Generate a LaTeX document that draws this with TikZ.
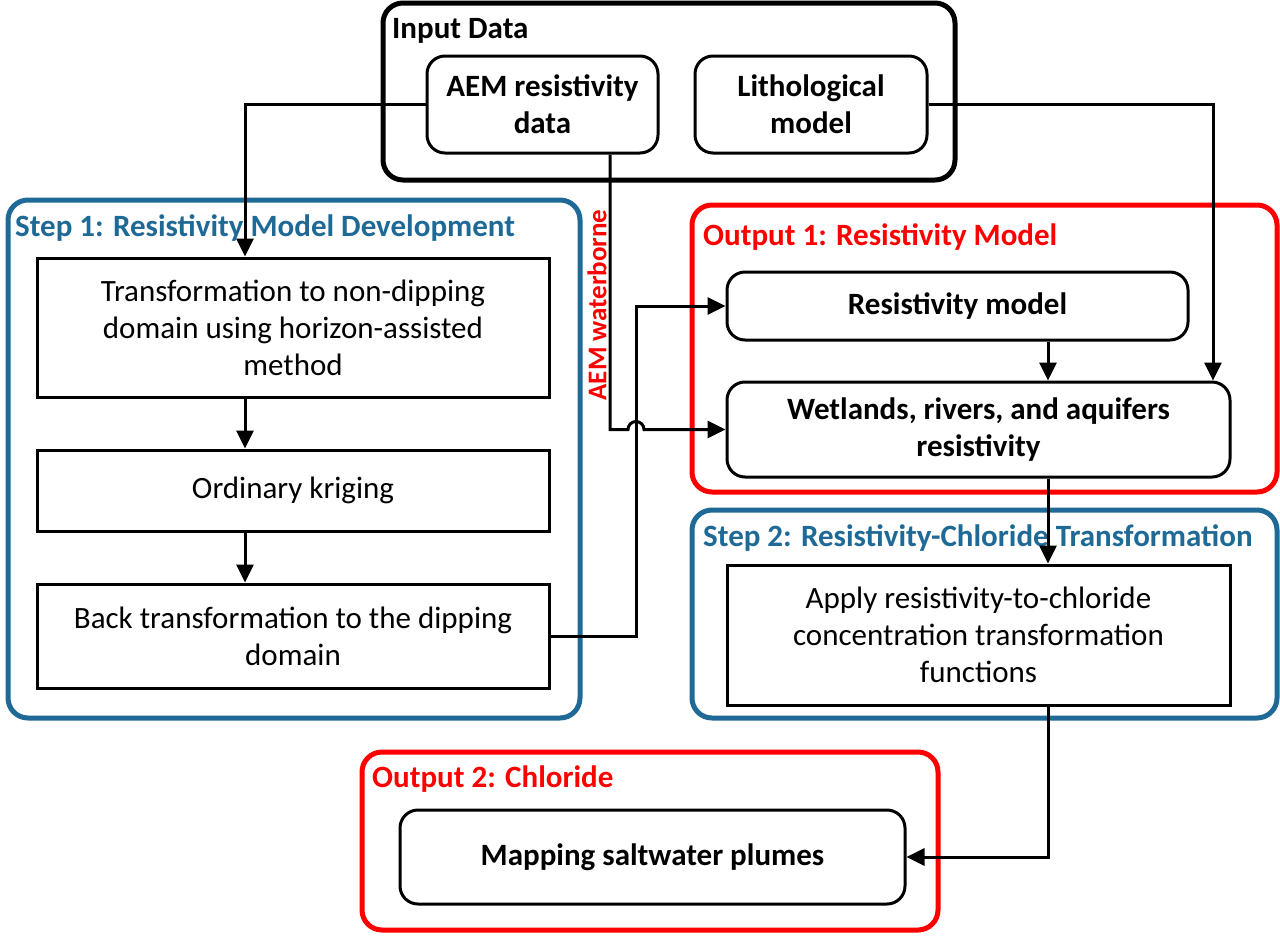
\documentclass[tikz,border=0pt]{standalone}
\usepackage{fontspec}
\setmainfont{Carlito}
\usetikzlibrary{arrows.meta}
\definecolor{stepblue}{RGB}{31,105,150}

\begin{document}
\begin{tikzpicture}[x=1pt, y=-1pt,
    every node/.style={font=\fontsize{31}{37}\selectfont},
    frame/.style={draw, line width=5pt, rounded corners=20pt, inner sep=0pt},
    inbox/.style={draw, line width=3pt, rounded corners=18pt, align=center, font=\fontsize{31}{37}\selectfont\bfseries},
    stepbox/.style={draw, line width=3pt, align=center},
    title/.style={anchor=west, inner sep=0pt, font=\fontsize{31}{37}\selectfont\bfseries},
    arr/.style={line width=3pt, -{Triangle[length=18pt,width=17pt]}}]
    \useasboundingbox (0,0) rectangle (1280,935);

    % group frames
    \node[frame, minimum width=572pt, minimum height=177pt] (input) at (669,91.5) {};
    \node[frame, draw=stepblue, minimum width=572pt, minimum height=518pt] (step1) at (294,459) {};
    \node[frame, draw=red, minimum width=585pt, minimum height=287pt] (out1) at (984.5,348.5) {};
    \node[frame, draw=stepblue, minimum width=585pt, minimum height=208pt] (step2) at (984.5,614) {};
    \node[frame, draw=red, minimum width=576pt, minimum height=178pt] (out2) at (650,841) {};

    % frame titles
    \node[title] (inputlbl) at (392,31) {Input Data};
    \node[title, text=stepblue] (step1lbl) at (15,228) {Step 1: Resistivity Model Development};
    \node[title, text=red] (out1lbl) at (703,237) {Output 1: Resistivity Model};
    \node[title, text=stepblue] (step2lbl) at (703,538) {Step 2: Resistivity-Chloride Transformation};
    \node[title, text=red] (out2lbl) at (372,779) {Output 2: Chloride};

    % boxes
    \node[inbox, minimum width=231pt, minimum height=97pt] (aem) at (542.5,104.5) {AEM resistivity\\data};
    \node[inbox, minimum width=232pt, minimum height=97pt] (lith) at (811,104.5) {Lithological\\model};
    \node[stepbox, minimum width=512pt, minimum height=139pt] (trans) at (293,327.5) {Transformation to non-dipping\\domain using horizon-assisted\\method};
    \node[stepbox, minimum width=512pt, minimum height=81pt] (krig) at (293,490.5) {Ordinary kriging};
    \node[stepbox, minimum width=512pt, minimum height=104pt] (back) at (293,636) {Back transformation to the dipping\\domain};
    \node[inbox, minimum width=461pt, minimum height=68pt] (res) at (957.5,306) {Resistivity model};
    \node[inbox, minimum width=503pt, minimum height=95pt] (wet) at (978.5,429.5) {Wetlands, rivers, and aquifers\\resistivity};
    \node[stepbox, minimum width=503pt, minimum height=140pt] (apply) at (978.5,635) {Apply resistivity-to-chloride\\concentration transformation\\functions};
    \node[inbox, minimum width=505pt, minimum height=94pt] (map) at (652.5,857) {Mapping saltwater plumes};

    \node[rotate=90, text=red, inner sep=0pt, font=\fontsize{27}{32}\selectfont\bfseries] (aemwb) at (597,305) {AEM waterborne};

    % x positions of the vertical runs
    \coordinate (c1) at (245,0);
    \coordinate (c2) at (610,0);
    \coordinate (c3) at (636,0);
    \coordinate (c4) at (1213,0);
    \coordinate (c5) at (1048,0);

    % connectors
    \draw[arr] (aem.west) -| (c1 |- trans.north);
    \draw[arr] (c1 |- trans.south) -- (c1 |- krig.north);
    \draw[arr] (c1 |- krig.south) -- (c1 |- back.north);
    \draw[arr] (back.east) -| (c3 |- res.west) -- (res.west);
    \draw[arr] (c2 |- aem.south) |- ([xshift=-8pt]c3 |- wet.west)
        arc[start angle=180, end angle=0, radius=8pt] -- (wet.west);
    \draw[arr] (lith.east) -| (c4 |- wet.north);
    \draw[arr] (c5 |- res.south) -- (c5 |- wet.north);
    \draw[arr] (c5 |- wet.south) -- (c5 |- apply.north);
    \draw[arr] (c5 |- apply.south) |- (map.east);
\end{tikzpicture}
\end{document}
